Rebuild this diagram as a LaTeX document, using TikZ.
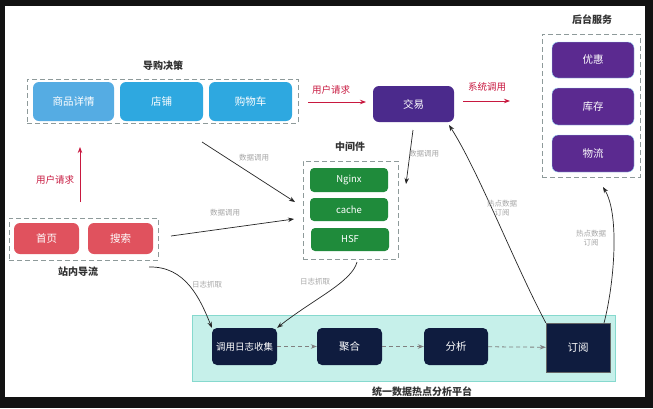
\documentclass[tikz,border=0pt]{standalone}
\usepackage{fontspec}
\setmainfont{Noto Sans CJK SC}
\newfontfamily\cjk{Noto Sans CJK SC}
\usetikzlibrary{arrows.meta}
\definecolor{bluebox}{HTML}{2EA8E0}
\definecolor{bluebox2}{HTML}{55ACE3}
\definecolor{purplebox}{HTML}{4B2A8C}
\definecolor{purplebox2}{HTML}{5B2A90}
\definecolor{greenbox}{HTML}{1F8B3B}
\definecolor{redbox}{HTML}{E0525E}
\definecolor{navybox}{HTML}{0F1C3F}
\definecolor{platfill}{HTML}{C6F0EA}
\definecolor{platdraw}{HTML}{86D9CE}
\definecolor{redline}{HTML}{C8183F}
\definecolor{dashgray}{HTML}{8E9A9A}
\definecolor{titlegray}{HTML}{333333}
\tikzset{
  box/.style={rounded corners=6pt, text=white, font=\fontsize{10.5}{11}\selectfont, inner sep=0pt},
  grp/.style={draw=dashgray, dash pattern=on 5pt off 3pt, line width=0.9pt, inner sep=0pt},
  ttl/.style={font=\fontsize{10}{11}\selectfont\bfseries, text=titlegray},
  lbl/.style={font=\fontsize{7.5}{8.5}\selectfont, text=gray!70, inner sep=1pt, align=center},
  redlbl/.style={font=\fontsize{9.5}{10}\selectfont, text=redline, inner sep=1pt},
  arr/.style={-{Stealth[length=6pt,width=4.5pt]}, line width=0.7pt, draw=black!85},
  redarr/.style={-{Stealth[length=6pt,width=4.5pt]}, line width=0.9pt, draw=redline},
  darr/.style={-{Stealth[length=6pt,width=4.5pt]}, line width=0.8pt, draw=gray, dash pattern=on 4pt off 3pt},
}
\begin{document}
\begin{tikzpicture}[x=1pt,y=-1pt]
\fill[black!93] (0,0) rectangle (653,408);
\fill[white] (5,6) rectangle (645,397);
\useasboundingbox (0,0) rectangle (653,408);

% top group
\node[grp, minimum width=271pt, minimum height=44pt] (gtop) at (162.5,101) {};
\node[ttl] (ttop) at (163,66) {导购决策};
\node[box, fill=bluebox2, minimum width=81pt, minimum height=39pt] (xq) at (73.5,101.5) {商品详情};
\node[box, fill=bluebox, minimum width=83pt, minimum height=39pt] (dp) at (161.5,101.5) {店铺};
\node[box, fill=bluebox, minimum width=83pt, minimum height=39pt] (gwc) at (250.5,101.5) {购物车};

% trade
\node[box, fill=purplebox, minimum width=81pt, minimum height=36pt] (jy) at (413.5,104) {交易};

% backend
\node[ttl] (tbk) at (592,20) {后台服务};
\node[grp, minimum width=98pt, minimum height=143pt] (gbk) at (591,105.5) {};
\node[box, fill=purplebox2, draw=cyan!40, minimum width=82pt, minimum height=36pt] (yh) at (593,60) {优惠};
\node[box, fill=purplebox2, draw=cyan!40, minimum width=82pt, minimum height=37pt] (kc) at (593,106.5) {库存};
\node[box, fill=purplebox2, draw=cyan!40, minimum width=82pt, minimum height=37pt] (wl) at (593,153.5) {物流};

% middleware
\node[ttl] (tmid) at (350,147) {中间件};
\node[grp, minimum width=95pt, minimum height=98pt] (gmid) at (350.5,210) {};
\node[box, fill=greenbox, rounded corners=4pt, minimum width=78pt, minimum height=24pt, font=\fontsize{9.5}{10}\selectfont] (ng) at (349,180) {Nginx};
\node[box, fill=greenbox, rounded corners=4pt, minimum width=78pt, minimum height=23pt, font=\fontsize{9.5}{10}\selectfont] (ca) at (349,209.5) {cache};
\node[box, fill=greenbox, rounded corners=4pt, minimum width=78pt, minimum height=23pt, font=\fontsize{9.5}{10}\selectfont] (hsf) at (350,239.5) {HSF};

% site group
\node[grp, minimum width=149pt, minimum height=42pt] (gsite) at (83.5,239) {};
\node[ttl] (tsite) at (78,272) {站内导流};
\node[box, fill=redbox, minimum width=65pt, minimum height=31pt] (sy) at (46.5,238.5) {首页};
\node[box, fill=redbox, minimum width=65pt, minimum height=31pt] (ss) at (120.5,238.5) {搜索};

% platform
\node[draw=platdraw, fill=platfill, line width=0.9pt, minimum width=423pt, minimum height=66pt, inner sep=0pt] (plat) at (403.5,348) {};
\node[ttl] (tplat) at (422,392) {统一数据热点分析平台};
\node[box, fill=navybox, rounded corners=5pt, minimum width=65pt, minimum height=37pt, font=\fontsize{9.5}{10}\selectfont] (rz) at (244.5,346.5) {调用日志收集};
\node[box, fill=navybox, rounded corners=5pt, minimum width=65pt, minimum height=37pt] (jh) at (349.5,346.5) {聚合};
\node[box, fill=navybox, rounded corners=5pt, minimum width=64pt, minimum height=37pt] (fx) at (456,346.5) {分析};
\node[box, fill=navybox, rounded corners=0pt, draw=black!60, minimum width=64pt, minimum height=49pt] (dy) at (578,347.5) {订阅};

% red arrows
\coordinate (ur1) at (308,102);
\coordinate (ur2) at (366,102);
\draw[redarr] (ur1) -- (ur2);
\node[redlbl] (lur) at (331,90) {用户请求};
\coordinate (sc1) at (463,101);
\coordinate (sc2) at (510,101);
\draw[redarr] (sc1) -- (sc2);
\node[redlbl] (lsc) at (487,87) {系统调用};
\coordinate (uv1) at (80,202);
\coordinate (uv2) at (80,147);
\draw[redarr] (uv1) -- (uv2);
\node[redlbl] (luv) at (55,180) {用户请求};

% data calls
\coordinate (d1a) at (202,142);
\coordinate (d1b) at (295,202);
\draw[arr] (d1a) -- (d1b);
\node[lbl, fill=white] (ld1) at (254,158) {数据调用};
\coordinate (d2a) at (171,236);
\coordinate (d2b) at (294,219);
\draw[arr] (d2a) -- (d2b);
\node[lbl] (ld2) at (225,213) {数据调用};
\coordinate (d3a) at (413,130);
\coordinate (d3b) at (406,184);
\draw[arr] (d3a) -- (d3b);
\node[lbl] (ld3) at (424,154) {数据调用};

% log capture
\coordinate (l1a) at (149,267);
\draw[arr] (l1a) .. controls (185,266) and (200,298) .. (rz.north west);
\node[lbl] (ll1) at (207,285) {日志抓取};
\coordinate (l2a) at (357,262);
\draw[arr] (l2a) .. controls (352,282) and (312,300) .. (rz.north east);
\node[lbl] (ll2) at (315,282) {日志抓取};

% hot data subscriptions
\coordinate (h1b) at (449,125);
\draw[arr] (dy.north west) .. controls (515,265) and (478,170) .. (h1b);
\node[lbl] (lh1) at (502,208) {热点数据\\订阅};
\coordinate (h2a) at (604,323);
\coordinate (h2b) at (603,187);
\draw[arr] (h2a) .. controls (614,285) and (620,215) .. (h2b);
\node[lbl] (lh2) at (591,238) {热点数据\\订阅};

% pipeline
\draw[darr] (rz) -- (jh);
\draw[darr] (jh) -- (fx);
\draw[darr] (fx) -- (dy);
\end{tikzpicture}
\end{document}
